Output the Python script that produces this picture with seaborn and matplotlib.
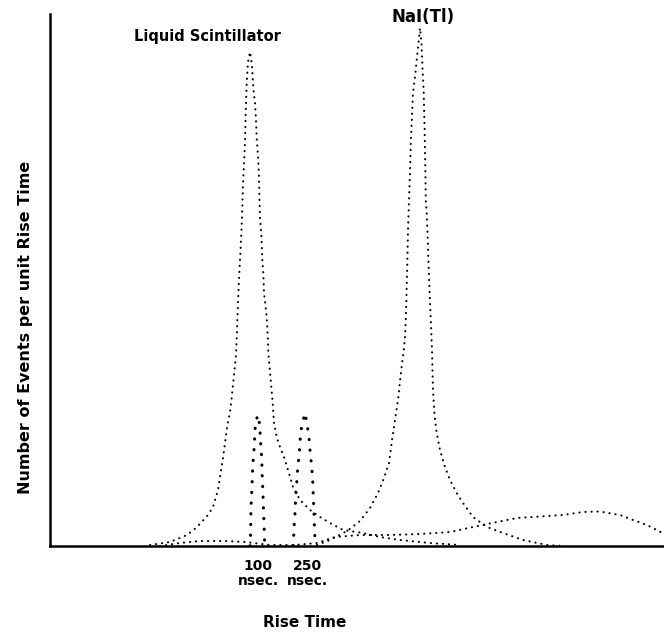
import matplotlib
matplotlib.use("Agg")
import matplotlib.pyplot as plt
import seaborn as sns
import pandas as pd

# ---- data (arbitrary channel units / counts) ----
ls_x = [100, 120, 137, 147, 158, 163, 168, 170, 173, 177, 180, 182, 184, 186, 187, 188,
        189.3, 190.7, 192, 193, 194, 195, 195.7, 196.7, 198, 200,
        202, 203.3, 205, 206, 206.7, 208.3, 209, 209.5, 210, 211, 211.7, 212.3, 213.3, 214,
        216.7, 217.7, 218.5, 220.7, 222.7, 224, 226.7, 230, 234, 238, 243, 250, 260, 270,
        280, 293, 313, 330, 350, 380, 410]
ls_y = [1, 4, 11, 19, 31, 39, 56, 69, 88, 118, 134, 151, 171, 191, 216, 244,
        273, 299, 329, 362, 383, 403, 433, 463, 484, 494,
        481, 458, 443, 426, 408, 386, 368, 346, 328, 316, 303, 286, 273, 253,
        229, 211, 191, 166, 143, 123, 109, 99, 89, 76, 59, 46, 36, 29,
        23, 16, 13, 9, 6, 3, 1]

nai_x = [267, 280, 297, 310, 320, 328, 334, 339, 342, 345, 348, 351, 354, 355, 356, 356.7,
         357.3, 358, 359, 360, 360.7, 361.7, 363, 365, 366.7, 368.5, 370,
         371.5, 372.5, 373.7, 374.2, 374.6, 375, 375.4, 375.8, 376.7, 377.7, 378.5, 379.3,
         380, 380.7, 381.3, 382, 383, 384.5, 386.7, 390, 395, 400, 406.7, 413, 423, 437,
         453, 473, 497, 513]
nai_y = [1, 6, 15, 25, 38, 53, 68, 83, 106, 126, 146, 174, 198, 209, 233, 259,
         283, 316, 346, 373, 401, 424, 453, 469, 486, 503, 518,
         503, 478, 454, 431, 418, 393, 373, 346, 333, 308, 283, 263,
         243, 228, 213, 196, 156, 131, 113, 96, 79, 66, 53, 43, 29, 19,
         13, 6, 1, 0]

third_x = [110, 130, 150, 175, 195, 220, 245, 267, 285, 310, 340, 370, 400, 423, 447, 467,
           490, 513, 533, 550, 570, 583, 597, 610, 614]
third_y = [0, 3, 5, 5, 4, 1, 1, 3, 9, 11, 11, 12, 14, 19, 24, 28,
           29.5, 31, 34, 34.5, 31, 26, 21, 14.3, 12]

p100_x = [200, 200.5, 200.8, 201, 202, 202.7, 204, 205, 206, 208.3, 210, 210.3, 211, 211.7,
          212.3, 213, 213.5, 214, 214.3, 214.6]
p100_y = [0, 9, 23, 39, 59, 79, 96, 116, 126, 131, 118, 108, 98, 88, 68, 51, 36, 24, 13, 4]

p250_x = [243.3, 243.6, 244, 245, 245.7, 246.7, 247.7, 249.3, 250.7, 252.7, 255, 256.7, 259,
          260, 261.7, 262.7, 263.3, 264, 264.5, 265, 265.3]
p250_y = [0, 6, 18, 33, 49, 63, 78, 93, 114, 124, 133, 124, 109, 96, 79, 66, 49, 33, 16, 6, 0]

tick_pos = [208, 257]
tick_labels = ["100\nnsec.", "250\nnsec."]

# ---- figure ----
sns.set_style("white")
plt.rcParams['font.family'] = ['DejaVu Sans']
plt.rcParams['text.color'] = 'black'
plt.rcParams['axes.labelcolor'] = 'black'

fig = plt.figure(figsize=(6.64, 6.36), dpi=100)
ax = fig.add_axes([50 / 664, 90 / 636, 614 / 664, 532 / 636])

broad = dict(color="black", linewidth=1.5, linestyle=(0, (0.1, 2.8)),
             dash_capstyle="round", estimator=None, legend=False, ax=ax)
narrow = dict(color="black", linewidth=2.2, linestyle=(0, (0.1, 3.4)),
              dash_capstyle="round", estimator=None, legend=False, ax=ax)

sns.lineplot(x=third_x, y=third_y, **broad)
sns.lineplot(x=ls_x, y=ls_y, **broad)
sns.lineplot(x=nai_x, y=nai_y, **broad)
sns.lineplot(x=p100_x, y=p100_y, **narrow)
sns.lineplot(x=p250_x, y=p250_y, **narrow)

ax.set_xlim(0, 614)
ax.set_ylim(0, 532)

for s in ["top", "right"]:
    ax.spines[s].set_visible(False)
for s in ["left", "bottom"]:
    ax.spines[s].set_linewidth(1.8)
    ax.spines[s].set_color("black")

ax.set_yticks([])
ax.set_xticks(tick_pos)
ax.set_xticklabels(tick_labels, fontsize=10, fontweight="bold", linespacing=1.15)
ax.tick_params(axis="x", direction="out", length=4, width=1.2, pad=5, colors="black")

ax.set_xlabel("Rise Time", fontsize=11, fontweight="bold", color="black")
ax.xaxis.set_label_coords(255 / 614, -69 / 532)
ax.set_ylabel("Number of Events per unit Rise Time", fontsize=11.5, fontweight="bold",
              color="black")
ax.yaxis.set_label_coords(-17 / 614, 219 / 532)

ax.text(157, 509, "Liquid Scintillator", fontsize=10.5, fontweight="bold",
        ha="center", va="center", color="black")
ax.text(373, 529, "NaI(Tl)", fontsize=12, fontweight="bold",
        ha="center", va="center", color="black")

fig.savefig("out.png", dpi=100)
